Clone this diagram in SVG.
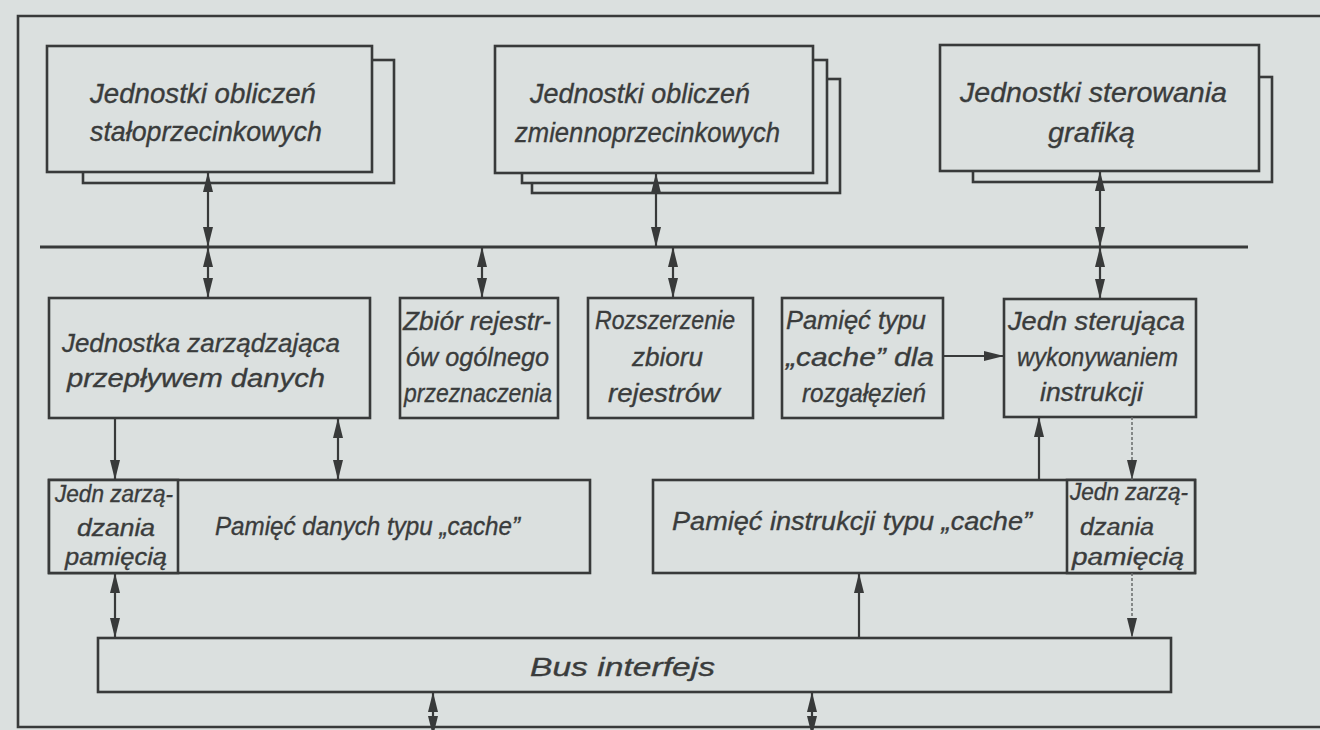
<svg xmlns="http://www.w3.org/2000/svg" width="1320" height="730" viewBox="0 0 1320 730">
  <style>
    .bg { fill: #dbe0df; }
    .box { fill: #dbe0df; stroke: #383a3a; stroke-width: 2.6; }
    .frame { fill: none; stroke: #383a3a; stroke-width: 2.6; }
    .bus { fill: none; stroke: #383a3a; stroke-width: 3.2; }
    .lbl { font-family: "Liberation Sans", Arial, sans-serif; font-style: italic; fill: #3a3c3c; stroke: #3a3c3c; stroke-width: 0.35; }
    .t28 { font-size: 28px; }
    .t26 { font-size: 26px; }
    .t23 { font-size: 23px; }
    .link { fill: none; stroke: #383a3a; stroke-width: 2.2; }
    .dbl { marker-start: url(#head); marker-end: url(#head); }
    .one { marker-end: url(#head); }
    .faint { stroke: #686b6b; stroke-width: 1.5; stroke-dasharray: 3 2; }
  </style>
  <defs>
    <marker id="head" viewBox="0 0 20 11" refX="20" refY="5.5" markerWidth="20" markerHeight="11" markerUnits="userSpaceOnUse" orient="auto-start-reverse">
      <path d="M0,0.5 L20,5.5 L0,10.5 z" fill="#383a3a"/>
    </marker>
  </defs>

  <rect class="bg" x="0" y="0" width="1320" height="730"/>

  <!-- outer frame -->
  <path class="frame" d="M1320,16 H18 V727 H1320"/>

  <!-- internal bus -->
  <line class="bus" x1="40" y1="247" x2="1248" y2="247"/>

  <!-- fixed-point units -->
  <g id="fixed-point-units">
    <rect class="box" x="83" y="60" width="311" height="123"/>
    <rect class="box" x="47" y="46" width="325" height="126"/>
    <text class="lbl t28" x="90" y="103" textLength="226" lengthAdjust="spacingAndGlyphs">Jednostki obliczeń</text>
    <text class="lbl t28" x="90" y="141" textLength="232" lengthAdjust="spacingAndGlyphs">stałoprzecinkowych</text>
  </g>

  <!-- floating-point units -->
  <g id="floating-point-units">
    <rect class="box" x="532" y="79" width="308" height="114"/>
    <rect class="box" x="522" y="60" width="305" height="123"/>
    <rect class="box" x="495" y="46" width="318" height="127"/>
    <text class="lbl t28" x="530" y="103" textLength="220" lengthAdjust="spacingAndGlyphs">Jednostki obliczeń</text>
    <text class="lbl t28" x="515" y="142" textLength="265" lengthAdjust="spacingAndGlyphs">zmiennoprzecinkowych</text>
  </g>

  <!-- graphics control units -->
  <g id="graphics-units">
    <rect class="box" x="973" y="77" width="299" height="105"/>
    <rect class="box" x="940" y="45" width="319" height="126"/>
    <text class="lbl t28" x="960" y="102" textLength="267" lengthAdjust="spacingAndGlyphs">Jednostki sterowania</text>
    <text class="lbl t28" x="1048" y="142" textLength="87" lengthAdjust="spacingAndGlyphs">grafiką</text>
  </g>

  <!-- data flow unit -->
  <g id="data-flow-unit">
    <rect class="box" x="49" y="298" width="321" height="120"/>
    <text class="lbl t26" x="62" y="352" textLength="278" lengthAdjust="spacingAndGlyphs">Jednostka zarządzająca</text>
    <text class="lbl t26" x="67" y="387" textLength="258" lengthAdjust="spacingAndGlyphs">przepływem  danych</text>
  </g>

  <!-- general purpose registers -->
  <g id="register-file">
    <rect class="box" x="400" y="298" width="158" height="120"/>
    <text class="lbl t26" x="403" y="330" textLength="148" lengthAdjust="spacingAndGlyphs">Zbiór rejestr-</text>
    <text class="lbl t26" x="406" y="366" textLength="143" lengthAdjust="spacingAndGlyphs">ów ogólnego</text>
    <text class="lbl t26" x="404" y="402" textLength="148" lengthAdjust="spacingAndGlyphs">przeznaczenia</text>
  </g>

  <!-- register file extension -->
  <g id="register-extension">
    <rect class="box" x="588" y="298" width="165" height="120"/>
    <text class="lbl t26" x="595" y="329" textLength="140" lengthAdjust="spacingAndGlyphs">Rozszerzenie</text>
    <text class="lbl t26" x="632" y="366" textLength="71" lengthAdjust="spacingAndGlyphs">zbioru</text>
    <text class="lbl t26" x="608" y="402" textLength="112" lengthAdjust="spacingAndGlyphs">rejestrów</text>
  </g>

  <!-- branch cache -->
  <g id="branch-cache">
    <rect class="box" x="782" y="298" width="161" height="120"/>
    <text class="lbl t26" x="786" y="329" textLength="140" lengthAdjust="spacingAndGlyphs">Pamięć typu</text>
    <text class="lbl t26" x="786" y="366" textLength="148" lengthAdjust="spacingAndGlyphs">„cache” dla</text>
    <text class="lbl t26" x="802" y="402" textLength="124" lengthAdjust="spacingAndGlyphs">rozgałęzień</text>
  </g>

  <!-- instruction execution control -->
  <g id="execution-control">
    <rect class="box" x="1004" y="299" width="192" height="118"/>
    <text class="lbl t26" x="1008" y="330" textLength="177" lengthAdjust="spacingAndGlyphs">Jedn sterująca</text>
    <text class="lbl t26" x="1017" y="366" textLength="161" lengthAdjust="spacingAndGlyphs">wykonywaniem</text>
    <text class="lbl t26" x="1040" y="401" textLength="103" lengthAdjust="spacingAndGlyphs">instrukcji</text>
  </g>

  <!-- data cache with MMU -->
  <g id="data-cache">
    <rect class="box" x="49" y="480" width="541" height="93"/>
    <rect class="box" x="49" y="480" width="129" height="93"/>
    <text class="lbl t23" x="55" y="502" textLength="118" lengthAdjust="spacingAndGlyphs">Jedn zarzą-</text>
    <text class="lbl t23" x="77" y="536" textLength="78" lengthAdjust="spacingAndGlyphs">dzania</text>
    <text class="lbl t23" x="65" y="565" textLength="102" lengthAdjust="spacingAndGlyphs">pamięcią</text>
    <text class="lbl t26" x="215" y="535" textLength="305" lengthAdjust="spacingAndGlyphs">Pamięć danych typu „cache”</text>
  </g>

  <!-- instruction cache with MMU -->
  <g id="instruction-cache">
    <rect class="box" x="653" y="480" width="542" height="93"/>
    <rect class="box" x="1067" y="480" width="128" height="93"/>
    <text class="lbl t26" x="672" y="530" textLength="360" lengthAdjust="spacingAndGlyphs">Pamięć instrukcji typu „cache”</text>
    <text class="lbl t23" x="1070" y="500" textLength="118" lengthAdjust="spacingAndGlyphs">Jedn zarzą-</text>
    <text class="lbl t23" x="1080" y="535" textLength="74" lengthAdjust="spacingAndGlyphs">dzania</text>
    <text class="lbl t23" x="1072" y="565" textLength="112" lengthAdjust="spacingAndGlyphs">pamięcią</text>
  </g>

  <!-- bus interface -->
  <g id="bus-interface">
    <rect class="box" x="98" y="638" width="1073" height="54"/>
    <text class="lbl t26" x="530" y="676" textLength="185" lengthAdjust="spacingAndGlyphs">Bus interfejs</text>
  </g>

  <!-- connectors -->
  <g id="connectors">
    <line class="link dbl" x1="208" y1="172" x2="208" y2="247"/>
    <line class="link dbl" x1="208" y1="247" x2="208" y2="298"/>
    <line class="link dbl" x1="656" y1="173" x2="656" y2="247"/>
    <line class="link dbl" x1="1100" y1="171" x2="1100" y2="247"/>
    <line class="link dbl" x1="1100" y1="247" x2="1100" y2="299"/>
    <line class="link dbl" x1="482" y1="247" x2="482" y2="298"/>
    <line class="link dbl" x1="673" y1="247" x2="673" y2="298"/>
    <line class="link one" x1="943" y1="356" x2="1004" y2="356"/>
    <line class="link one" x1="115" y1="418" x2="115" y2="480"/>
    <line class="link dbl" x1="338" y1="418" x2="338" y2="480"/>
    <line class="link one" x1="1039" y1="480" x2="1039" y2="417"/>
    <line class="link faint one" x1="1132" y1="417" x2="1132" y2="480"/>
    <line class="link dbl" x1="115" y1="573" x2="115" y2="638"/>
    <line class="link one" x1="859" y1="638" x2="859" y2="573"/>
    <line class="link faint one" x1="1132" y1="573" x2="1132" y2="638"/>
    <line class="link dbl" x1="433" y1="692" x2="433" y2="736"/>
    <line class="link dbl" x1="812" y1="692" x2="812" y2="736"/>
  </g>
</svg>
